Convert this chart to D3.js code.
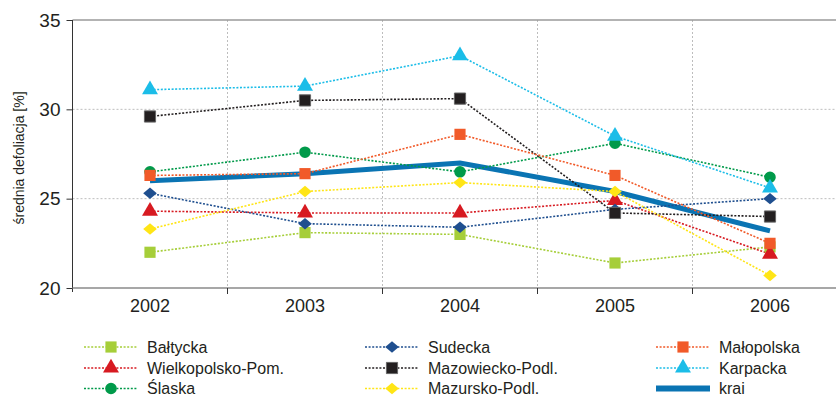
<!DOCTYPE html>
<html>
<head>
<meta charset="utf-8">
<script src="https://cdn.jsdelivr.net/npm/d3@7"></script>
<style>
  body { margin: 0; background: #fff; }
  svg { font-family: "Liberation Sans", Arial, sans-serif; }
</style>
</head>
<body>
<svg id="chart" width="836" height="396"></svg>
<script>
const years = ['2002', '2003', '2004', '2005', '2006'];
const yTicks = [20, 25, 30, 35];

const baltycka = [22.0, 23.1, 23.0, 21.4, 22.3];
const wielkopolsko = [24.3, 24.2, 24.2, 24.9, 21.9];
const slaska = [26.5, 27.6, 26.5, 28.1, 26.2];
const sudecka = [25.3, 23.6, 23.4, 24.4, 25.0];
const mazowiecko = [29.6, 30.5, 30.6, 24.2, 24.0];
const malopolska = [26.3, 26.4, 28.6, 26.3, 22.5];
const karpacka = [31.1, 31.3, 33.0, 28.5, 25.6];
const mazursko = [23.3, 25.4, 25.9, 25.4, 20.7];
const krai = [26.0, 26.4, 27.0, 25.4, 23.2];

// draw order: krai first so that markers sit on top
const series = [
  { name: 'krai', values: krai, color: '#0a74b3', marker: null },
  { name: 'Bałtycka', values: baltycka, color: '#a6ce39', marker: 'square' },
  { name: 'Wielkopolsko-Pom.', values: wielkopolsko, color: '#d71a21', marker: 'triangle' },
  { name: 'Śląska', values: slaska, color: '#009a4a', marker: 'circle' },
  { name: 'Sudecka', values: sudecka, color: '#1f4f8f', marker: 'diamond' },
  { name: 'Mazowiecko-Podl.', values: mazowiecko, color: '#231f20', marker: 'square' },
  { name: 'Mazursko-Podl.', values: mazursko, color: '#ffe516', marker: 'diamond' },
  { name: 'Małopolska', values: malopolska, color: '#f15a29', marker: 'square' },
  { name: 'Karpacka', values: karpacka, color: '#1bbde8', marker: 'triangle' }
];

// legend layout (column, row) as in the original
const legendOrder = [
  ['Bałtycka', 0, 0], ['Wielkopolsko-Pom.', 0, 1], ['Śląska', 0, 2],
  ['Sudecka', 1, 0], ['Mazowiecko-Podl.', 1, 1], ['Mazursko-Podl.', 1, 2],
  ['Małopolska', 2, 0], ['Karpacka', 2, 1], ['krai', 2, 2]
];
const legendLabels = { 'Śląska': 'Ślaska' };

const svg = d3.select('#chart');
const margin = { left: 72.5, top: 20, bottom: 288 };
const bandW = 155;

const x = d3.scaleBand().domain(years).range([margin.left, margin.left + bandW * years.length]);
const y = d3.scaleLinear().domain([20, 35]).range([margin.bottom, margin.top]);

const g = svg.append('g');

// grid
g.selectAll('.vgrid').data(years.slice(1)).enter().append('line')
  .attr('x1', d => x(d)).attr('x2', d => x(d))
  .attr('y1', margin.top).attr('y2', margin.bottom)
  .attr('stroke', '#bdbdbd').attr('stroke-width', 1).attr('stroke-dasharray', '2,2');
g.selectAll('.hgrid').data([25, 30]).enter().append('line')
  .attr('x1', margin.left).attr('x2', 836)
  .attr('y1', d => y(d)).attr('y2', d => y(d))
  .attr('stroke', '#bdbdbd').attr('stroke-width', 1).attr('stroke-dasharray', '2,2');

// top border
g.append('line').attr('x1', margin.left).attr('x2', 836)
  .attr('y1', margin.top).attr('y2', margin.top)
  .attr('stroke', '#9a9a9a').attr('stroke-width', 1.5);

// y axis
const yAxis = g.append('g').attr('transform', `translate(${margin.left},0)`)
  .call(d3.axisLeft(y).tickValues(yTicks).tickSize(6).tickPadding(6).tickFormat(d3.format('d')));
yAxis.select('.domain').attr('stroke', '#333').attr('d', `M0,${margin.top}V${margin.bottom + 4}`);
yAxis.selectAll('.tick line').attr('stroke', '#333');
yAxis.selectAll('.tick text').attr('font-size', 19).attr('fill', '#231f20')
  .attr('font-family', '"Liberation Sans", Arial, sans-serif');

// x axis
const xAxis = g.append('g').attr('transform', `translate(0,${margin.bottom})`)
  .call(d3.axisBottom(x).tickSize(0).tickPadding(11));
xAxis.select('.domain').attr('stroke', '#8a8a8a').attr('stroke-width', 1.5)
  .attr('d', `M${margin.left},0H836`);
xAxis.selectAll('.tick text').attr('font-size', 18).attr('fill', '#231f20')
  .attr('font-family', '"Liberation Sans", Arial, sans-serif');
g.selectAll('.xtick').data(years.slice(1)).enter().append('line')
  .attr('x1', d => x(d)).attr('x2', d => x(d))
  .attr('y1', margin.bottom).attr('y2', margin.bottom + 6)
  .attr('stroke', '#333');

// y title
svg.append('text')
  .attr('transform', `translate(24,${(margin.top + margin.bottom) / 2 + 4}) rotate(-90)`)
  .attr('text-anchor', 'middle').attr('font-size', 14).attr('fill', '#231f20')
  .text('średnia defoliacja [%]');

const cx = d => x(d) + x.bandwidth() / 2;
const line = d3.line().x((d, i) => cx(years[i])).y(d => y(d));

// wide diamond like the original (d3's diamond is too tall)
const wideDiamond = {
  draw(ctx, size) {
    const w = Math.sqrt(size) * 0.62, h = Math.sqrt(size) * 0.52;
    ctx.moveTo(0, -h); ctx.lineTo(w, 0); ctx.lineTo(0, h); ctx.lineTo(-w, 0); ctx.closePath();
  }
};

const symbols = {
  square: d3.symbol().type(d3.symbolSquare).size(125),
  triangle: d3.symbol().type(d3.symbolTriangle).size(110),
  circle: d3.symbol().type(d3.symbolCircle).size(105),
  diamond: d3.symbol().type(wideDiamond).size(120)
};

function drawMarker(sel, marker, color) {
  sel.append('path')
    .attr('d', symbols[marker]())
    .attr('fill', color)
    .attr('stroke', marker === 'square' && color === '#231f20' ? '#666' : 'none')
    .attr('stroke-width', 1);
}

// lines
series.forEach(s => {
  g.append('path').datum(s.values)
    .attr('d', line)
    .attr('fill', 'none')
    .attr('stroke', s.color)
    .attr('stroke-width', s.marker ? 1.6 : 5)
    .attr('stroke-dasharray', s.marker ? '2,1.6' : null);
});
// markers
series.filter(s => s.marker).forEach(s => {
  s.values.forEach((v, i) => {
    const m = g.append('g').attr('transform', `translate(${cx(years[i])},${y(v)})`);
    drawMarker(m, s.marker, s.color);
  });
});

// legend
const colX = [84, 365, 656];
const rowY = [347, 368, 388.5];
const legend = svg.append('g');
legendOrder.forEach(([name, c, r]) => {
  const s = series.find(d => d.name === name);
  const lg = legend.append('g').attr('transform', `translate(${colX[c]},${rowY[r]})`);
  if (s.marker) {
    lg.append('line').attr('x1', 0).attr('x2', 54).attr('y1', 0).attr('y2', 0)
      .attr('stroke', s.color).attr('stroke-width', 1.6).attr('stroke-dasharray', '2,1.6');
    drawMarker(lg.append('g').attr('transform', 'translate(27,0)'), s.marker, s.color);
  } else {
    lg.append('line').attr('x1', 0).attr('x2', 54).attr('y1', 0).attr('y2', 0)
      .attr('stroke', s.color).attr('stroke-width', 6);
  }
  lg.append('text').attr('x', 63).attr('y', 5.5).attr('font-size', 16).attr('fill', '#231f20')
    .text(legendLabels[name] || name);
});
</script>
</body>
</html>
